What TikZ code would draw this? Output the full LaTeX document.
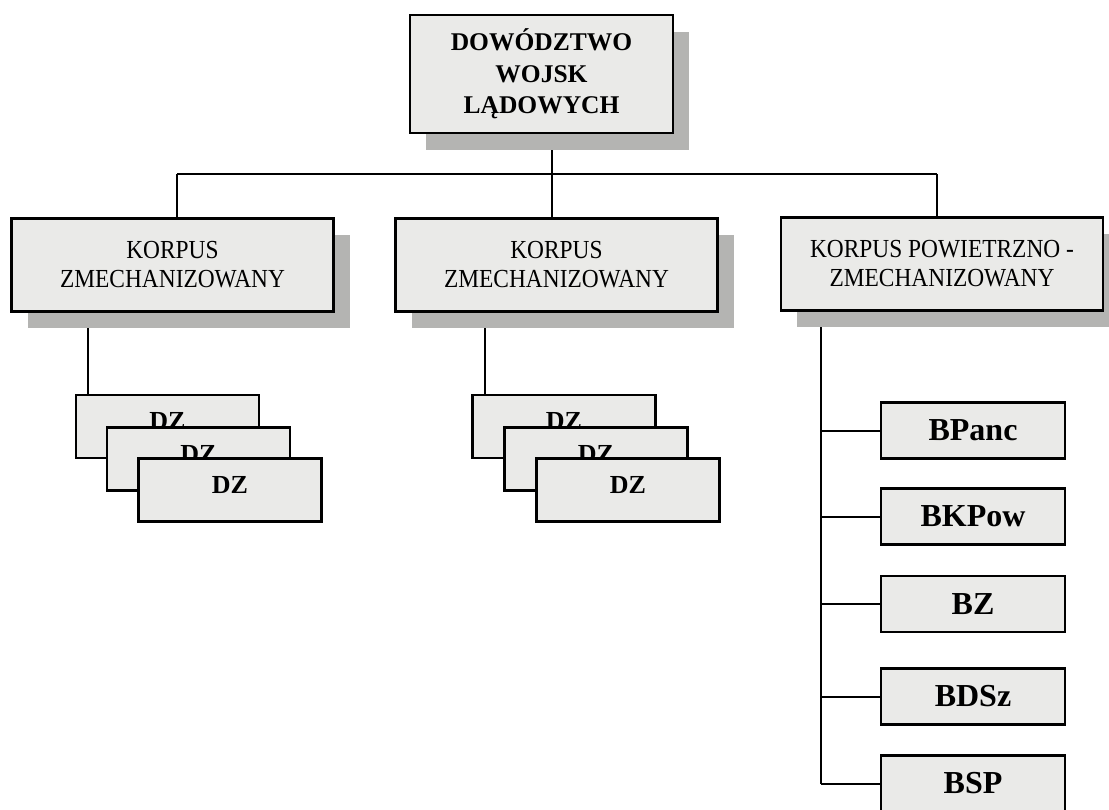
\documentclass[tikz,border=0pt]{standalone}
\usepackage{fontspec}
\setmainfont{Liberation Serif}
\newfontfamily\korpfont[FakeStretch=0.9]{Liberation Serif}
\usetikzlibrary{shadows}
\pgfdeclarelayer{background}
\pgfsetlayers{background,main}
\definecolor{boxfill}{RGB}{234,234,232}
\definecolor{shadowgray}{RGB}{180,180,178}
\tikzset{
  box/.style={draw=black, line width=2.1pt, fill=boxfill, inner sep=0pt},
  shadowed/.style={drop shadow={shadow xshift=16pt, shadow yshift=-17pt, fill=shadowgray, opacity=1}},
  topbox/.style={box, shadowed, minimum width=263pt, minimum height=118pt, align=center,
    font=\bfseries\fontsize{25.5}{31.5}\selectfont},
  korp/.style={box, shadowed, minimum width=322pt, minimum height=93pt, align=center,
    font=\korpfont\fontsize{26}{29}\selectfont},
  dzbox/.style={box, minimum width=183pt, minimum height=63pt},
  dzlbl/.style={font=\bfseries\fontsize{26}{26}\selectfont, yshift=5pt},
  brbox/.style={box, minimum width=184pt, minimum height=56pt,
    font=\bfseries\fontsize{32}{32}\selectfont},
  conn/.style={line width=2pt}
}
\begin{document}
\begin{tikzpicture}[x=1pt,y=-1pt]
\useasboundingbox (0,0) rectangle (1109,810);

% top
\node[topbox] (top) at (541.5,74) {DOWÓDZTWO\\WOJSK\\LĄDOWYCH};

% corps
\node[korp] (k1) at (172.5,265) {KORPUS\\ZMECHANIZOWANY};
\node[korp] (k2) at (556.5,265) {KORPUS\\ZMECHANIZOWANY};
\node[korp] (k3) at (942,264) {KORPUS POWIETRZNO -\\ZMECHANIZOWANY};

% DZ stacks (left)
\node[dzbox, label={[dzlbl]center:DZ}] (l1) at (167.5,426.5) {};
\node[dzbox, label={[dzlbl]center:DZ}] (l2) at (198.5,459) {};
\node[dzbox, label={[dzlbl]center:DZ}] (l3) at (230,490) {};
% DZ stacks (middle)
\node[dzbox, label={[dzlbl]center:DZ}] (m1) at (564,426.5) {};
\node[dzbox, label={[dzlbl]center:DZ}] (m2) at (596,459) {};
\node[dzbox, label={[dzlbl]center:DZ}] (m3) at (628,490) {};

% brigades
\node[brbox] (b1) at (973,430.5) {BPanc};
\node[brbox] (b2) at (973,516.5) {BKPow};
\node[brbox] (b3) at (973,604) {BZ};
\node[brbox] (b4) at (973,696.5) {BDSz};
\node[brbox] (b5) at (973,783.5) {BSP};

\coordinate (bl) at (177,174);
\coordinate (bm) at (552,174);
\coordinate (br) at (937,174);
\coordinate (d1) at ([xshift=13pt]l1.north west);
\coordinate (d2) at ([xshift=14pt]m1.north west);
\coordinate (vt) at (821,0);

\begin{pgfonlayer}{background}
  \fill[white] (0,0) rectangle (1109,810);
  \draw[conn] (bl) -- (br);
  \draw[conn] (bm |- top.south) -- (bm) -- (bm |- k2.north);
  \draw[conn] (bl) -- (bl |- k1.north);
  \draw[conn] (br) -- (br |- k3.north);
  \draw[conn] (d1 |- k1.south) -- (d1);
  \draw[conn] (d2 |- k2.south) -- (d2);
  \draw[conn] (vt |- k3.south) -- (vt |- b5.west);
  \foreach \b in {b1,b2,b3,b4,b5} {
    \draw[conn] (vt |- \b.west) -- (\b.west);
  }
\end{pgfonlayer}
\end{tikzpicture}
\end{document}
